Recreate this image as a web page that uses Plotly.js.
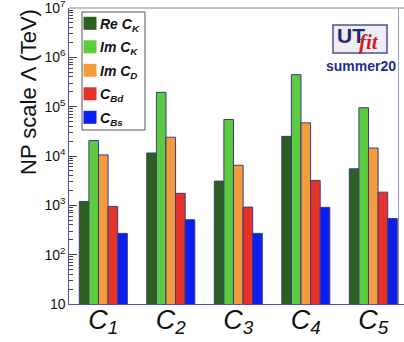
<!DOCTYPE html>
<html>
<head>
<meta charset="utf-8">
<script src="https://cdn.plot.ly/plotly-3.0.1.min.js"></script>
<style>
  html, body { margin: 0; padding: 0; background: #fff; }
  #chart { width: 404px; height: 342px; }
</style>
</head>
<body>
<div id="chart"></div>
<script>
// Operators C1..C5 and the lower bound on the NP scale (TeV) per constraint
const operators = ['C1', 'C2', 'C3', 'C4', 'C5'];
const operatorLabels = ['<i>C<sub>1</sub></i>', '<i>C<sub>2</sub></i>', '<i>C<sub>3</sub></i>', '<i>C<sub>4</sub></i>', '<i>C<sub>5</sub></i>'];

const reCK = [1200, 11500, 3100, 25000, 5500];
const imCK = [20500, 195000, 55000, 445000, 95000];
const imCD = [10500, 24000, 6500, 47000, 14500];
const cBd  = [950, 1750, 920, 3200, 1850];
const cBs  = [270, 510, 270, 910, 540];

const seriesNames = ['Re C<sub>K</sub>', 'Im C<sub>K</sub>', 'Im C<sub>D</sub>', 'C<sub>Bd</sub>', 'C<sub>Bs</sub>'];
const seriesValues = [reCK, imCK, imCD, cBd, cBs];
const seriesColors = ['#2b601f', '#5ccb3e', '#f49c3d', '#e6332a', '#0b1ff2'];

// figure geometry (pixels)
const W = 404, H = 342;
const M = { l: 69, r: 0, t: 8, b: 38 };
const plotW = W - M.l - M.r, plotH = H - M.t - M.b;
const px = x => (x - M.l) / plotW;          // pixel x -> paper x
const py = y => (H - M.b - y) / plotH;      // pixel y -> paper y

const traces = seriesValues.map((vals, i) => ({
  type: 'bar',
  x: operators,
  y: vals,
  name: seriesNames[i],
  marker: { color: seriesColors[i], line: { color: '#3b3b7e', width: 1 } },
  showlegend: false,
  hoverinfo: 'y'
}));

// hand-laid legend box in the top-left corner
const shapes = [];
const annotations = [];
const legL = 82, legR = 145, legT = 12, legB = 130;
shapes.push({ type: 'rect', xref: 'paper', yref: 'paper',
  x0: px(legL), x1: px(legR), y0: py(legB), y1: py(legT),
  line: { color: '#555', width: 1 }, fillcolor: '#fff', layer: 'above' });
seriesNames.forEach((name, i) => {
  const cy = 23.3 + i * 23.5;
  shapes.push({ type: 'rect', xref: 'paper', yref: 'paper',
    x0: px(83.5), x1: px(96.5), y0: py(cy + 6.5), y1: py(cy - 6.5),
    line: { width: 0 }, fillcolor: seriesColors[i], layer: 'above' });
  annotations.push({ xref: 'paper', yref: 'paper', x: px(97.5), y: py(cy + 1.5),
    xanchor: 'left', yanchor: 'middle', showarrow: false,
    text: '<b><i>' + name + '</i></b>',
    font: { family: 'Liberation Sans, Arial, sans-serif', size: 14, color: '#111' } });
});

// frame lines
shapes.push({ type: 'line', xref: 'paper', yref: 'paper', x0: 0, x1: 1, y0: 1, y1: 1,
  line: { color: '#8a8a8a', width: 1 } });
shapes.push({ type: 'line', xref: 'paper', yref: 'paper', x0: px(398.5), x1: px(398.5), y0: 0, y1: 1,
  line: { color: '#9a9ac0', width: 1 } });

// UTfit badge
shapes.push({ type: 'rect', xref: 'paper', yref: 'paper',
  x0: px(333), x1: px(387), y0: py(53), y1: py(25),
  line: { color: '#4d5290', width: 1.5 }, fillcolor: '#efedf4' });
annotations.push({ xref: 'paper', yref: 'paper', x: px(334.5), y: py(35), xanchor: 'left', yanchor: 'middle',
  showarrow: false, text: '<b>UT</b>',
  font: { family: 'Liberation Sans, Arial, sans-serif', size: 21, color: '#1d2878' } });
annotations.push({ xref: 'paper', yref: 'paper', x: px(357), y: py(42), xanchor: 'left', yanchor: 'middle',
  showarrow: false, text: '<b><i>fit</i></b>',
  font: { family: 'Liberation Serif, DejaVu Serif, serif', size: 21, color: '#cf2020' } });
annotations.push({ xref: 'paper', yref: 'paper', x: px(361), y: py(66), xanchor: 'center', yanchor: 'middle',
  showarrow: false, text: '<b>summer20</b>',
  font: { family: 'Liberation Sans, Arial, sans-serif', size: 14, color: '#1f2d88' } });

// y-axis title, top-aligned
annotations.push({ xref: 'paper', yref: 'paper', x: px(28), y: py(7), xanchor: 'center', yanchor: 'top',
  showarrow: false, textangle: -90, text: 'NP scale Λ (TeV)',
  font: { family: 'Liberation Sans, Arial, sans-serif', size: 22, color: '#111' } });

const layout = {
  width: W, height: H,
  margin: M,
  paper_bgcolor: '#fff', plot_bgcolor: '#fff',
  barmode: 'group', bargap: 0.289, bargroupgap: 0,
  xaxis: {
    type: 'category',
    range: [-0.508, 4.455],
    tickmode: 'array', tickvals: operators, ticktext: operatorLabels,
    ticks: '', showgrid: false, zeroline: false,
    ticklabelstandoff: -9,
    ticklabeloverflow: 'allow',
    showline: true, linecolor: '#5252ae', linewidth: 1.3,
    tickfont: { family: 'Liberation Sans Narrow, Liberation Sans, Arial, sans-serif', size: 27, color: '#111' }
  },
  yaxis: {
    type: 'log',
    range: [1, 7],
    tickmode: 'linear', tick0: 0, dtick: 1,
    exponentformat: 'power',
    ticklabeloverflow: 'allow',
    ticks: 'inside', ticklen: 8, tickcolor: '#444', tickwidth: 1,
    minor: { dtick: 'D1', ticks: 'inside', ticklen: 4, tickcolor: '#444', showgrid: false },
    showgrid: false, zeroline: false,
    showline: true, linecolor: '#5252ae', linewidth: 1.3,
    tickfont: { family: 'Liberation Sans, Arial, sans-serif', size: 11.2, color: '#111' }
  },
  shapes: shapes,
  annotations: annotations,
  showlegend: false
};

Plotly.newPlot('chart', traces, layout, { displayModeBar: false, staticPlot: true });
</script>
</body>
</html>
